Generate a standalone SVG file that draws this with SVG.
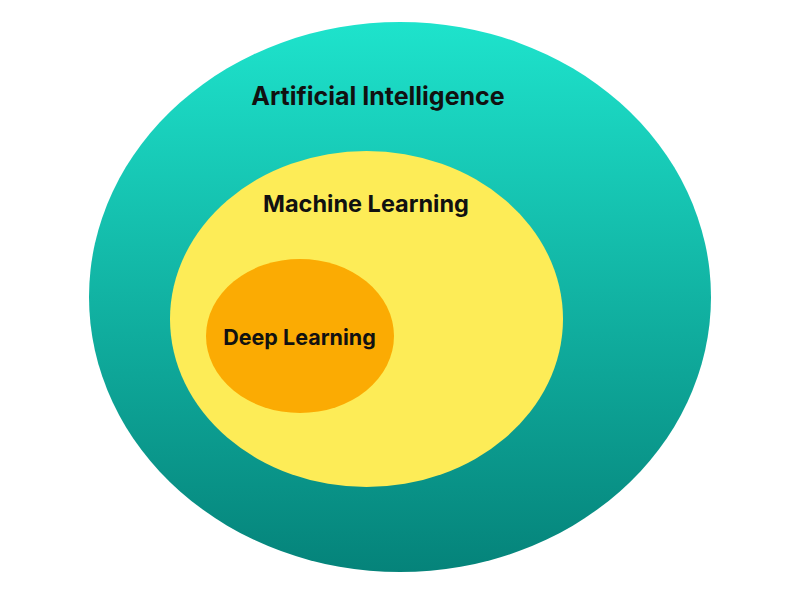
<svg xmlns="http://www.w3.org/2000/svg" width="800" height="597" viewBox="0 0 800 597">
<defs>
<linearGradient id="teal" x1="0" y1="0" x2="0" y2="1">
<stop offset="0" stop-color="#1ee3cc"/>
<stop offset="1" stop-color="#05837a"/>
</linearGradient>
</defs>
<style>
text{font-family:Inter,"Liberation Sans",sans-serif;font-weight:700;fill:#111;text-anchor:middle}
</style>
<rect width="800" height="597" fill="#ffffff"/>
<g id="ai">
<ellipse cx="400" cy="297" rx="311" ry="275" fill="url(#teal)"/>
<text x="378" y="105" font-size="25">Artificial Intelligence</text>
</g>
<g id="ml">
<ellipse cx="366.5" cy="319" rx="196.5" ry="168" fill="#fdec57"/>
<text x="366" y="212" font-size="23.5">Machine Learning</text>
</g>
<g id="dl">
<ellipse cx="300" cy="336" rx="94" ry="77" fill="#fbab03"/>
<text x="299.5" y="345" font-size="21.5">Deep Learning</text>
</g>
<g id="connectors"/>
</svg>
